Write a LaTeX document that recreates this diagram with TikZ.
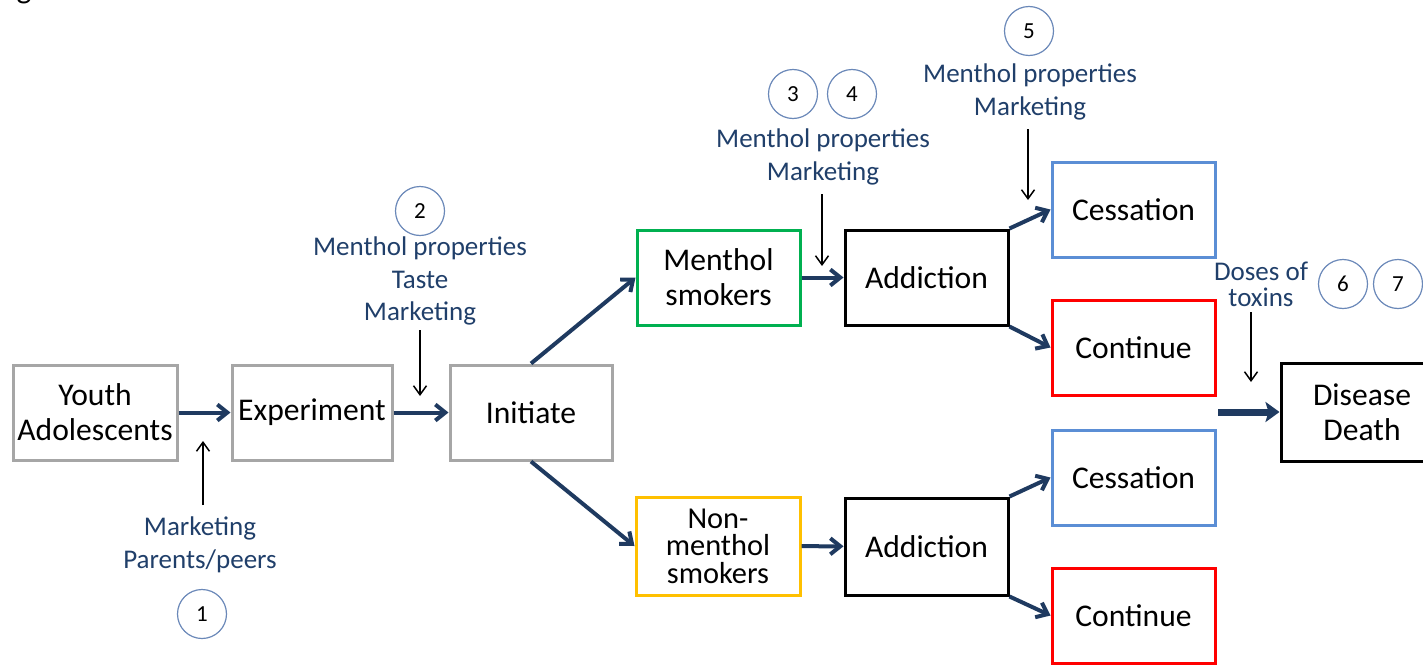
\documentclass[tikz,border=0pt]{standalone}
\usepackage{fontspec}
\setmainfont{Carlito}
\usetikzlibrary{arrows.meta}
\definecolor{boxgray}{HTML}{A6A6A6}
\definecolor{boxgreen}{HTML}{00B050}
\definecolor{boxyellow}{HTML}{FFC000}
\definecolor{boxblue}{HTML}{5B8ED5}
\definecolor{boxred}{HTML}{FF0000}
\definecolor{navy}{HTML}{1F3A60}
\definecolor{labelblue}{HTML}{203F6A}
\definecolor{circblue}{HTML}{6A88B8}
\begin{document}
\begin{tikzpicture}[x=0.5pt,y=-0.5pt,
  box/.style 2 args={draw,line width=1.5pt,inner sep=0pt,align=center,
    minimum width={#1*0.5pt},minimum height={#2*0.5pt},
    font=\fontsize{15.8}{17.5}\selectfont},
  lab/.style={text=labelblue,align=center,inner sep=0pt,
    font=\fontsize{13.5}{16.3}\selectfont},
  num/.style={circle,draw=circblue,line width=0.6pt,minimum size=24.5pt,
    inner sep=0pt,font=\fontsize{11.5}{12}\selectfont},
  flow/.style={draw=navy,line width=2pt,
    -{Straight Barb[length=5pt,width=8pt,line width=2pt]}},
  bigflow/.style={draw=navy,line width=3.5pt,
    -{Stealth[length=7pt,width=10pt,inset=1.5pt]}},
  infl/.style={draw=black,line width=0.75pt,
    -{Straight Barb[length=4.5pt,width=6.5pt,line width=0.75pt]}}]
\useasboundingbox (0,0) rectangle (1423,664);

% partial caption letter at the top edge
\node[anchor=base,inner sep=0pt,font=\fontsize{15.8}{17.5}\selectfont] (gcap) at (24,-2) {g};

% boxes
\node[box={164}{95},draw=boxgray] (youth) at (95,412.5) {Youth\\Adolescents};
\node[box={160}{95},draw=boxgray] (exper) at (312,412.5) {Experiment};
\node[box={162}{95},draw=boxgray] (init) at (531,412.5) {Initiate};
\node[box={163}{95},draw=boxgreen] (menth) at (718.5,277.5) {Menthol\\smokers};
\node[box={164}{98},draw=boxyellow,font=\fontsize{15.2}{13.7}\selectfont] (nonm) at (718,546) {Non-\\menthol\\smokers};
\node[box={163}{95},draw=black] (add1) at (926.5,277.5) {Addiction};
\node[box={163}{97},draw=black] (add2) at (926.5,546.5) {Addiction};
\node[box={163}{95},draw=boxblue] (ces1) at (1133.5,209.5) {Cessation};
\node[box={163}{95},draw=boxred] (con1) at (1133.5,347.5) {Continue};
\node[box={163}{95},draw=boxblue] (ces2) at (1133.5,477.5) {Cessation};
\node[box={163}{95},draw=boxred] (con2) at (1133.5,615.5) {Continue};
\node[box={162}{98},draw=black] (dis) at (1362,412) {Disease\\Death};

% labels
\node[lab] (lab1) at (200,545) {Marketing\\Parents/peers};
\node[lab] (lab2) at (420,281) {Menthol properties\\Taste\\Marketing};
\node[lab] (lab34) at (823,157) {Menthol properties\\Marketing};
\node[lab] (lab5) at (1030,92) {Menthol properties\\Marketing};
\node[lab,font=\fontsize{13.5}{13}\selectfont] (lab67) at (1261,284) {Doses of\\toxins};

% numbered circles
\node[num] (c1) at (202,614) {1};
\node[num] (c2) at (420,211) {2};
\node[num] (c3) at (793,94) {3};
\node[num] (c4) at (852,94) {4};
\node[num] (c5) at (1029,31) {5};
\node[num] (c6) at (1343,284) {6};
\node[num] (c7) at (1398,284) {7};

% main flow
\draw[flow] (youth) -- (exper);
\draw[flow] (exper) -- (init);
\draw[flow] (init.north) -- (menth.west);
\draw[flow] (init.south) -- (nonm.west);
\draw[flow] (menth) -- (add1);
\draw[flow] (nonm) -- (add2);
\draw[flow] (add1.north east) -- (ces1.west);
\draw[flow] (add1.south east) -- (con1.west);
\draw[flow] (add2.north east) -- (ces2.west);
\draw[flow] (add2.south east) -- (con2.west);
\coordinate (dstart) at (1218,412);
\draw[bigflow] (dstart) -- (dis.west);

% influence arrows
\coordinate (i1s) at (203,505); \coordinate (i1e) at (203,441);
\coordinate (i2s) at (420,330); \coordinate (i2e) at (420,396);
\coordinate (i3s) at (822,194); \coordinate (i3e) at (822,266);
\coordinate (i5s) at (1028,129); \coordinate (i5e) at (1028,200);
\coordinate (i6s) at (1251,312); \coordinate (i6e) at (1251,382);
\draw[infl] (i1s) -- (i1e);
\draw[infl] (i2s) -- (i2e);
\draw[infl] (i3s) -- (i3e);
\draw[infl] (i5s) -- (i5e);
\draw[infl] (i6s) -- (i6e);
\end{tikzpicture}
\end{document}
